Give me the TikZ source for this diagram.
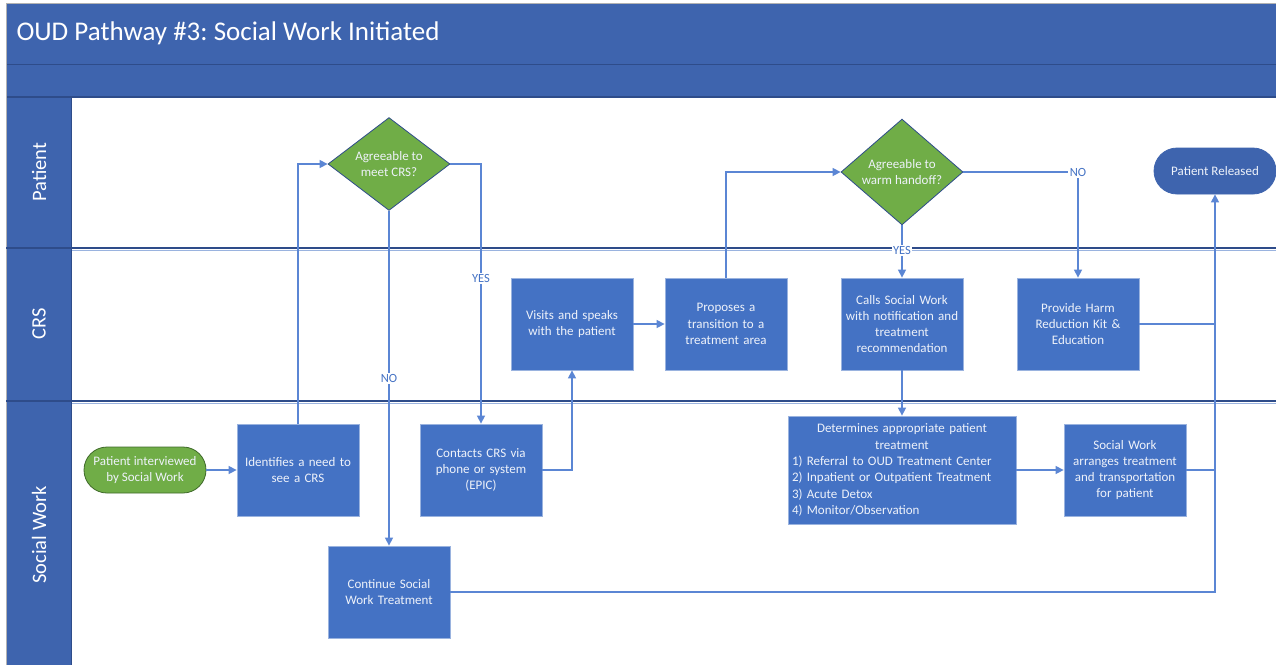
\documentclass[tikz,border=0pt]{standalone}
\usepackage{fontspec}
\setmainfont{Carlito}
\frenchspacing
\usetikzlibrary{arrows.meta,shapes.geometric}
\definecolor{hdr}{HTML}{3E64AE}
\definecolor{hdrline}{HTML}{2E4C8A}
\definecolor{boxfill}{HTML}{4472C4}
\definecolor{boxedge}{HTML}{9AB3DF}
\definecolor{wire}{HTML}{5B86D4}
\definecolor{grn}{HTML}{70AD47}
\definecolor{grnedge}{HTML}{3F6A2A}
\definecolor{boxtext}{HTML}{EEF2FA}
\definecolor{lanelight}{HTML}{9AB3DF}
\tikzset{
  proc/.style={rectangle, fill=boxfill, draw=boxedge, line width=0.8pt,
    minimum width=122pt, minimum height=92pt, text width=118pt,
    align=center, text=boxtext, font=\fontsize{13}{16.3}\selectfont, inner sep=0pt},
  decision/.style={diamond, fill=grn, draw=hdrline, line width=0.8pt,
    minimum width=122pt, minimum height=92pt, inner sep=0pt, align=center,
    text=boxtext, font=\fontsize{13}{16.3}\selectfont},
  terminal/.style={rectangle, rounded corners=23pt, line width=0.8pt,
    minimum width=122pt, minimum height=46pt, inner sep=0pt, align=center,
    text=boxtext, font=\fontsize{13}{16.3}\selectfont},
  wire/.style={draw=wire, line width=1.4pt},
  arr/.style={wire, -{Triangle[length=8pt,width=8pt]}},
  lbl/.style={fill=white, text=boxfill, font=\fontsize{12.5}{14}\selectfont, inner sep=1.5pt},
  lanename/.style={rotate=90, text=white, font=\fontsize{20.5}{24}\selectfont}
}
\begin{document}
\begin{tikzpicture}[x=1pt,y=-1pt]
\useasboundingbox (0,0) rectangle (1276,665);
\fill[white] (0,0) rectangle (1276,665);
% header bands and lane column
\fill[hdr] (6,3) rectangle (1276,97);
\fill[hdr] (6,97) rectangle (71,665);
\draw[hdrline, line width=1pt] (6,64) -- (1276,64);
\draw[hdrline, line width=1.2pt] (6,97) -- (1276,97);
\draw[gray!60, line width=0.6pt] (6,665) -- (6,3) -- (1276,3);
% lane separators
\foreach \yy in {248,401} {
  \draw[hdrline, line width=1.6pt] (6,\yy) -- (1276,\yy);
  \draw[lanelight, line width=0.8pt] (71,\yy+2.2) -- (1276,\yy+2.2);
}
\draw[hdrline, line width=0.8pt] (71,97) -- (71,665);
% titles
\node[anchor=west, text=white, font=\fontsize{27}{32}\selectfont] (title) at (13,33) {OUD Pathway \#3: Social Work Initiated};
\node[lanename] (lpat) at (39,172) {Patient};
\node[lanename] (lcrs) at (39,324) {CRS};
\node[lanename] (lsw) at (39,535) {Social Work};
% Patient lane
\node[decision] (d1) at (389,164) {Agreeable to\\meet CRS?};
\node[decision] (d2) at (902,172) {Agreeable to\\warm handoff?};
\node[terminal, fill=hdr, draw=hdr] (rel) at (1215,171) {Patient Released};
% CRS lane
\node[proc] (visit) at (572,324) {Visits and speaks\\with the patient};
\node[proc] (prop) at (726,324) {Proposes a\\transition to a\\treatment area};
\node[proc] (call) at (902,324) {Calls Social Work\\with notification and\\treatment\\recommendation};
\node[proc] (harm) at (1078,324) {Provide Harm\\Reduction Kit \&\\Education};
% Social Work lane
\node[terminal, fill=grn, draw=grnedge] (start) at (145,470) {Patient interviewed\\by Social Work};
\node[proc] (ident) at (298,470) {Identifies a need to\\see a CRS};
\node[proc] (contact) at (481,470) {Contacts CRS via\\phone or system\\(EPIC)};
\node[proc] (cont) at (389,592) {Continue Social\\Work Treatment};
\node[proc, minimum width=228pt, minimum height=108pt, text width=224pt] (det) at (902,470)
  {Determines appropriate patient\\treatment\\
   \makebox[220pt][l]{1) Referral to OUD Treatment Center}\\
   \makebox[220pt][l]{2) Inpatient or Outpatient Treatment}\\
   \makebox[220pt][l]{3) Acute Detox}\\
   \makebox[220pt][l]{4) Monitor/Observation}};
\node[proc] (arrange) at (1125,470) {Social Work\\arranges treatment\\and transportation\\for patient};
% connectors
\draw[arr] (start) -- (ident);
\draw[arr] (ident.north) |- (d1.west);
\draw[arr] (d1.east) -| node[lbl, pos=0.72] {YES} (contact.north);
\draw[arr] (d1.south) -- node[lbl, pos=0.5] {NO} (cont.north);
\draw[arr] (contact.east) -| (visit.south);
\draw[arr] (visit) -- (prop);
\draw[arr] (prop.north) |- (d2.west);
\draw[arr] (d2.south) -- node[lbl, pos=0.48] {YES} (call.north);
\draw[arr] (d2.east) -| node[lbl, pos=0.5] {NO} (harm.north);
\draw[arr] (call) -- (det);
\draw[arr] (det) -- (arrange);
\draw[arr] (cont.east) -| (rel.south);
\draw[wire] (harm.east) -- (harm.east -| rel.south);
\draw[wire] (arrange.east) -- (arrange.east -| rel.south);
\end{tikzpicture}
\end{document}
